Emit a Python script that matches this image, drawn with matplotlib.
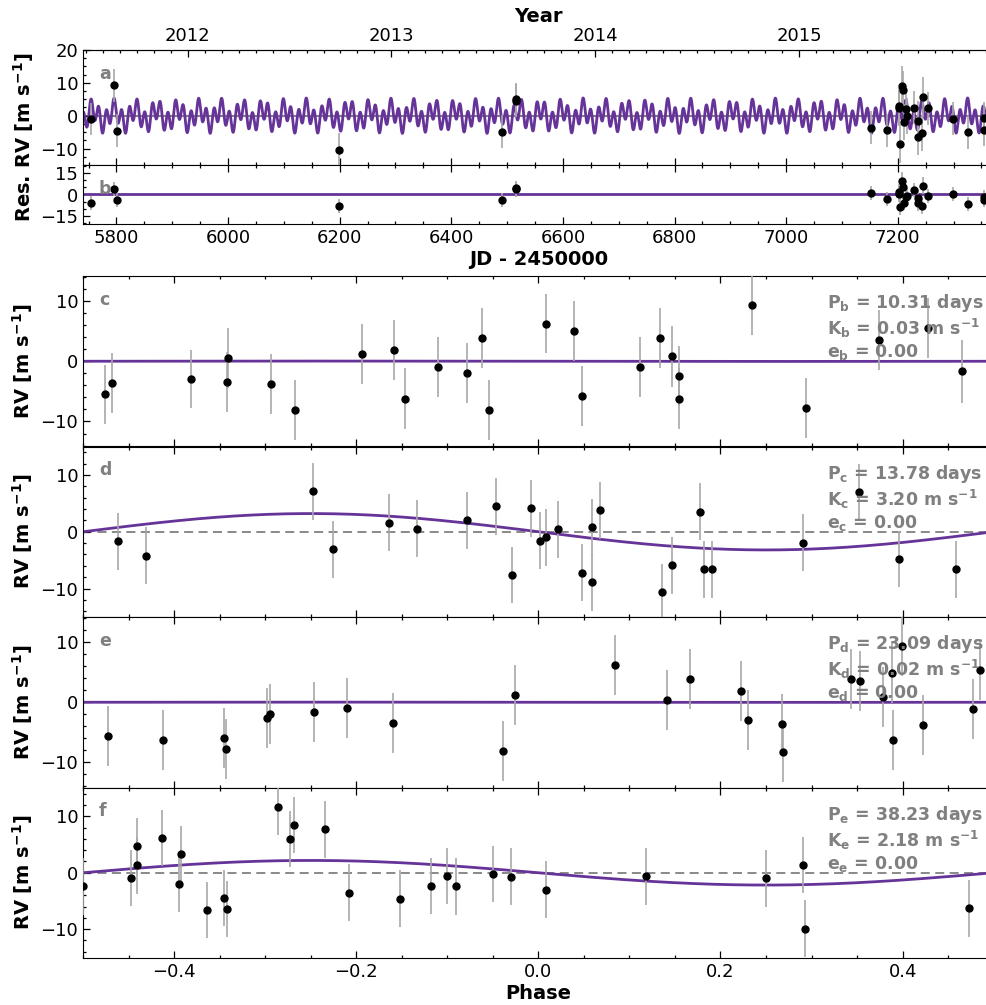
import numpy as np
import matplotlib
matplotlib.use('Agg')
import matplotlib.pyplot as plt
from matplotlib.ticker import MultipleLocator, FixedLocator, FormatStrFormatter

plt.rcParams['font.family'] = ['DejaVu Sans']
plt.rcParams['mathtext.default'] = 'bf'

# ---------------- data ----------------
# panel a / b : time series (JD - 2450000), RV, error, residuals
jd_a = [5755.2, 5795.7, 5801.8, 6199.0, 6490.1, 6515.2, 6515.8, 7151.5, 7180.2,
        7201.7, 7202.8, 7204.0, 7207.1, 7209.5, 7210.6, 7214.2, 7216.5, 7228.5,
        7235.7, 7236.8, 7242.9, 7245.8, 7254.7, 7299.0, 7326.4, 7354.5, 7355.5]
rv_a = [-1.0, 9.2, -4.6, -10.3, -4.9, 5.0, 4.6, -3.7, -4.5,
        3.0, 2.3, -8.5, 9.0, 7.7, -1.8, 2.1, -0.2, 2.4,
        -6.6, -1.5, -5.3, 5.7, 2.3, -0.9, -5.0, -0.7, -4.2]
err_a = [5.0, 5.0, 5.0, 5.0, 5.0, 5.0, 5.0, 5.0, 5.0,
         5.5, 5.5, 6.0, 6.0, 6.0, 5.5, 5.5, 5.5, 5.0,
         5.5, 6.0, 5.5, 6.0, 5.0, 5.0, 5.0, 5.0, 5.0]
res_a = [-6.1, 3.7, -4.0, -7.9, -4.0, 3.5, 4.6, 0.9, -3.0,
         0.2, 1.9, -8.4, 9.5, 5.3, -5.6, -1.7, -0.7, 3.2,
         -6.1, -2.6, -8.2, 6.0, -1.2, 0.4, -6.6, -1.6, -4.0]

# planet parameters
planets = ['b', 'c', 'd', 'e']
period = [10.31, 13.78, 23.09, 38.23]
semi_amp = [0.03, 3.20, 0.02, 2.18]
ecc = [0.00, 0.00, 0.00, 0.00]
t_conj = [5752.0, 5799.1, 5760.0, 5805.3]

# phase-folded panels
ph_c = [-0.4757, -0.4684, -0.3813, -0.3406, -0.3414, -0.2938, -0.2671, -0.1932,
        -0.1588, -0.1467, -0.1105, -0.0780, -0.0618, -0.0545, 0.0088, 0.0395,
        0.0480, 0.1113, 0.1336, 0.1464, 0.1545, 0.1545, 0.2346, 0.2939,
        0.3737, 0.4282, 0.4651]
rv_c = [-5.5, -3.6, -2.9, 0.5, -3.4, -3.8, -8.1, 1.2,
        1.9, -6.2, -1.0, -1.9, 3.8, -8.1, 6.2, 5.0,
        -5.8, -0.9, 3.8, 0.8, -2.5, -6.2, 9.4, -7.7,
        3.5, 5.5, -1.7]
err_c = [4.9, 5.0, 4.8, 5.0, 5.0, 5.0, 5.0, 4.9,
         5.0, 5.0, 5.0, 5.0, 5.0, 5.0, 4.9, 5.0,
         5.0, 5.0, 5.0, 5.0, 5.0, 5.0, 5.0, 5.0,
         5.0, 5.0, 5.2]

ph_d = [-0.4618, -0.4307, -0.2470, -0.2250, -0.1639, -0.1328, -0.0779, -0.0468,
        -0.0289, -0.0080, 0.0022, 0.0088, 0.0220, 0.0480, 0.0590, 0.0590,
        0.0674, 0.1362, 0.1468, 0.1772, 0.1816, 0.1903, 0.2906, 0.3520,
        0.3956, 0.4582]
rv_d = [-1.7, -4.2, 7.1, -3.1, 1.6, 0.5, 2.0, 4.5,
        -7.6, 4.1, -1.6, -1.0, 0.4, -7.2, 0.8, -8.9,
        3.8, -10.6, -5.9, 3.5, -6.6, -6.6, -1.9, 7.0,
        -4.8, -6.6]
err_d = [5.0, 5.0, 5.0, 5.0, 5.0, 5.0, 5.0, 5.0,
         5.0, 5.0, 5.0, 5.0, 5.0, 5.0, 5.0, 5.0,
         5.0, 5.0, 5.0, 5.0, 5.0, 5.0, 5.0, 5.0,
         5.0, 5.0]

ph_e = [-0.4721, -0.4124, -0.3451, -0.3432, -0.2975, -0.2946, -0.2459, -0.2100,
        -0.1599, -0.0391, -0.0256, 0.0842, 0.1417, 0.1669, 0.2229, 0.2305,
        0.2679, 0.2690, 0.3429, 0.3527, 0.3788, 0.3883, 0.3897, 0.3989,
        0.4227, 0.4776, 0.4849]
rv_e = [-5.6, -6.3, -5.9, -7.8, -2.6, -1.9, -1.7, -0.9,
        -3.4, -8.2, 1.2, 6.2, 0.4, 3.8, 1.9, -2.9,
        -3.7, -8.3, 3.8, 3.5, 0.8, 4.9, -6.3, 9.4,
        -3.8, -1.2, 5.4]
err_e = [5.0, 5.0, 5.0, 5.0, 5.0, 5.0, 5.0, 5.0,
         5.0, 5.0, 5.0, 5.0, 5.0, 5.0, 5.0, 5.0,
         5.0, 5.0, 5.0, 5.0, 5.0, 5.0, 5.0, 5.0,
         5.0, 5.0, 5.0]

ph_f = [-0.5002, -0.4468, -0.4409, -0.4406, -0.4131, -0.3948, -0.3919, -0.3640,
        -0.3454, -0.3421, -0.2861, -0.2723, -0.2679, -0.2338, -0.2078, -0.1515,
        -0.1178, -0.1002, -0.0900, -0.0494, -0.0300, 0.0085, 0.1182, 0.2496,
        0.2909, 0.2924, 0.4728]
rv_f = [-2.4, -0.9, 1.3, 4.7, 6.2, -2.0, 3.3, -6.6,
        -4.5, -6.4, 11.7, 6.0, 8.5, 7.7, -3.5, -4.6,
        -2.3, -0.6, -2.4, -0.2, -0.7, -3.0, -0.65, -1.0,
        1.4, -9.9, -6.3]
err_f = [5.0, 5.0, 5.0, 5.0, 5.0, 5.0, 5.0, 5.0,
         5.0, 5.0, 5.0, 5.0, 5.0, 5.0, 5.0, 5.0,
         5.0, 5.0, 5.0, 5.0, 5.0, 5.0, 5.0, 5.0,
         5.0, 5.0, 5.0]

year_ticks = [2012, 2013, 2014, 2015]

# ---------------- style ----------------
PURPLE = '#663399'
EBAR = '#a8a8a8'
GREY = '#808080'
TICK_FS = 13
LAB_FS = 14
ANN_FS = 12.5

W, H = 986, 1005
fig = plt.figure(figsize=(W / 100, H / 100), dpi=100)

left = 83 / W
width = (993.7 - 83) / W


def box(top_px, bot_px):
    return [left, 1 - bot_px / H, width, (bot_px - top_px) / H]


def style(ax, top=True):
    ax.tick_params(which='both', direction='in', top=top, right=True,
                   labelsize=TICK_FS, width=0.9)
    ax.tick_params(which='major', length=5)
    ax.tick_params(which='minor', length=2.5)


def letter(ax, s):
    ax.annotate(s, xy=(0, 1), xycoords='axes fraction', xytext=(11.5, -20.8),
                textcoords='offset points', ha='left', va='baseline',
                color=GREY, fontsize=ANN_FS, fontweight='bold', zorder=10)


def keplerian(t, P, K, T0):
    return -K * np.sin(2 * np.pi * (np.asarray(t) - T0) / P)


xlim_a = (5740, 7372)

# ---- panel a ----
axa = fig.add_axes(box(50, 165))
tt = np.linspace(xlim_a[0], xlim_a[1], 8000)
model = np.zeros_like(tt)
for P, K, T0 in zip(period, semi_amp, t_conj):
    model += keplerian(tt, P, K, T0)
axa.axhline(0, color=GREY, lw=1.5, zorder=1)
axa.plot(tt, model, color=PURPLE, lw=2, zorder=2)
axa.errorbar(jd_a, rv_a, yerr=err_a, fmt='o', color='k', ms=5, ecolor=EBAR,
             elinewidth=1.2, capsize=0, zorder=3)
axa.set_xlim(*xlim_a)
axa.set_ylim(-15, 20)
axa.yaxis.set_major_locator(MultipleLocator(10))
axa.yaxis.set_minor_locator(MultipleLocator(2.5))
axa.xaxis.set_major_locator(MultipleLocator(200))
axa.xaxis.set_minor_locator(MultipleLocator(50))
style(axa, top=False)
axa.tick_params(labelbottom=False)
letter(axa, 'a')


def jd2yr(x):
    return 2000.0 + (np.asarray(x) + 2450000.0 - 2451544.5) / 365.25


def yr2jd(y):
    return (np.asarray(y) - 2000.0) * 365.25 + 2451544.5 - 2450000.0


sec = axa.secondary_xaxis('top', functions=(jd2yr, yr2jd))
sec.xaxis.set_major_locator(FixedLocator(year_ticks))
sec.xaxis.set_minor_locator(MultipleLocator(1 / 12))
sec.xaxis.set_major_formatter(FormatStrFormatter('%d'))
sec.tick_params(which='both', direction='in', labelsize=TICK_FS, width=0.9)
sec.tick_params(which='major', length=5)
sec.tick_params(which='minor', length=2.5)
sec.set_xlabel('Year', fontsize=LAB_FS, fontweight='bold')

# ---- panel b ----
axb = fig.add_axes(box(165, 224), sharex=axa)
axb.axhline(0, color=PURPLE, lw=2, zorder=2)
axb.errorbar(jd_a, res_a, yerr=err_a, fmt='o', color='k', ms=5, ecolor=EBAR,
             elinewidth=1.2, capsize=0, zorder=3)
axb.set_ylim(-20.5, 20.5)
axb.yaxis.set_major_locator(MultipleLocator(15))
axb.yaxis.set_minor_locator(MultipleLocator(5))
style(axb)
axb.set_xlabel('JD - 2450000', fontsize=LAB_FS, fontweight='bold', labelpad=2)
letter(axb, 'b')

fig.text(24 / W, 1 - 137 / H, 'Res. RV [m s$^{-1}$]', rotation=90,
         ha='center', va='center', fontsize=LAB_FS, fontweight='bold')

# ---- phase panels ----
phase_data = [(ph_c, rv_c, err_c), (ph_d, rv_d, err_d),
              (ph_e, rv_e, err_e), (ph_f, rv_f, err_f)]
bounds = [(276, 446.5), (446.5, 617), (617, 787.5), (787.5, 958)]
ylims = [(-14.15, 14.15), (-15.0, 15.0), (-14.2, 14.2), (-15.1, 15.1)]
letters = ['c', 'd', 'e', 'f']
phgrid = np.linspace(-0.5, 0.5, 600)

axes = []
for i, ((ph, rv, er), (t, b), yl, let) in enumerate(zip(phase_data, bounds, ylims, letters)):
    ax = fig.add_axes(box(t, b), sharex=axes[0] if axes else None)
    axes.append(ax)
    ax.axhline(0, color=GREY, lw=1.3, ls=(0, (5, 3)), zorder=1)
    ax.plot(phgrid, keplerian(phgrid, 1.0, semi_amp[i], 0.0),
            color=PURPLE, lw=2, zorder=2)
    ax.errorbar(ph, rv, yerr=er, fmt='o', color='k', ms=5, ecolor=EBAR,
                elinewidth=1.2, capsize=0, zorder=3)
    ax.set_xlim(-0.5, 0.5)
    ax.set_ylim(*yl)
    ax.yaxis.set_major_locator(MultipleLocator(10))
    ax.yaxis.set_minor_locator(MultipleLocator(2))
    ax.xaxis.set_major_locator(MultipleLocator(0.2))
    ax.xaxis.set_minor_locator(MultipleLocator(0.05))
    style(ax)
    ax.set_ylabel('RV [m s$^{-1}$]', fontsize=LAB_FS, fontweight='bold')
    ax.yaxis.set_label_coords(-0.053, 0.5)
    letter(ax, let)
    pl = planets[i]
    txt = (f'P$_{pl}$ = {period[i]:.2f} days\n'
           f'K$_{pl}$ = {semi_amp[i]:.2f} m s$^{{-1}}$\n'
           f'e$_{pl}$ = {ecc[i]:.2f}')
    ax.text(0.8166, 0.905, txt, transform=ax.transAxes, ha='left', va='top',
            color=GREY, fontsize=ANN_FS, fontweight='bold', zorder=10,
            linespacing=1.15)
    if i < 3:
        ax.tick_params(labelbottom=False)

axes[-1].set_xlabel('Phase', fontsize=LAB_FS, fontweight='bold', labelpad=2)

fig.savefig('out.png', dpi=100)
